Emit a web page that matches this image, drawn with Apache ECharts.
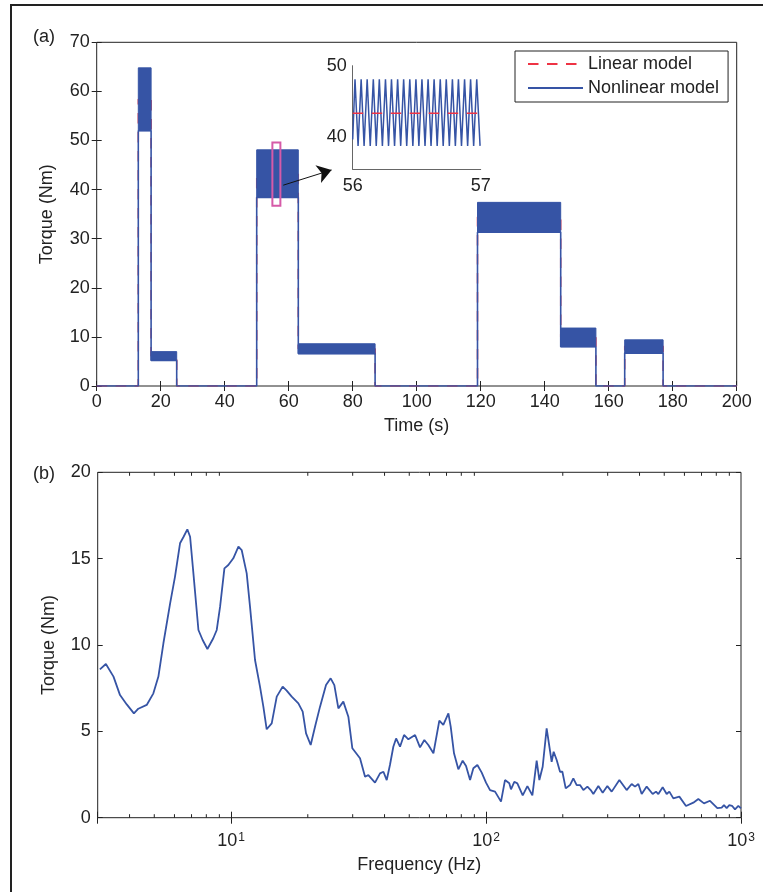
<!DOCTYPE html>
<html>
<head>
<meta charset="utf-8">
<script src="https://cdn.jsdelivr.net/npm/echarts@6/dist/echarts.min.js"></script>
<style>
html,body{margin:0;padding:0;background:#fff;}
#chart{width:763px;height:892px;}
</style>
</head>
<body>
<div id="chart"></div>
<script>
// ---------- (a) time-domain torque: load segments ----------
const segStart = [13, 17, 50, 63, 119, 145, 165];
const segEnd   = [17, 25, 63, 87, 145, 156, 177];
const segLow   = [52.0, 5.2, 38.4, 6.6, 31.3, 8.0, 6.7];   // nonlinear model oscillation minimum
const segHigh  = [64.8, 7.0, 48.1, 8.6, 37.4, 11.8, 9.4];  // nonlinear model oscillation maximum
const linearVal = [58.4, 6.1, 43.3, 7.6, 34.4, 9.9, 8.1];  // linear model level
const timeEnd = 200;
const timeTicks = [0, 200, 20];
const torqueTicksA = [0, 70, 10];

// zoom box and arrow (data coordinates)
const zoomBox = [54.9, 36.7, 57.4, 49.6];
const arrowFrom = [58.3, 40.9];
const arrowTo = [73.4, 44.0];

// ---------- inset: 56 s to 57 s ----------
const insetStart = [56.0, 39.6];
const insetPeakT = [56.018, 56.066, 56.113, 56.161, 56.208, 56.256, 56.303, 56.351, 56.398, 56.446, 56.494,
                    56.541, 56.589, 56.636, 56.684, 56.731, 56.779, 56.826, 56.874, 56.921, 56.969];
const insetTroughT = [56.042, 56.089, 56.137, 56.184, 56.232, 56.280, 56.327, 56.375, 56.422, 56.470, 56.517,
                      56.565, 56.612, 56.660, 56.707, 56.755, 56.802, 56.850, 56.898, 56.945, 56.995];
const insetHigh = 48.1;
const insetLow = 38.7;
const insetXRange = [56, 57];
const insetYRange = [35.4, 50];
const insetYTicks = [40, 50];

// ---------- (b) frequency spectrum ----------
const freqHz = [3.06,3.23,3.46,3.67,3.90,4.16,4.33,4.67,4.96,5.19,5.43,5.77,6.03,6.31,6.50,6.74,6.91,7.12,7.45,7.74,
  8.08,8.52,8.79,9.06,9.42,9.76,10.21,10.69,11.01,11.52,11.87,12.42,12.99,13.39,13.80,14.44,15.11,15.94,16.53,17.30,
  18.37,19.10,19.69,20.53,21.35,22.34,23.58,24.59,25.42,26.36,27.57,28.85,29.91,32.05,33.54,34.56,36.70,
  38.4,39.6,40.8,42.0,43.3,44.4,46.0,47.7,49.6,52.7,55.1,57.3,59.4,62.2,65.6,68.0,71.2,72.7,74.9,77.9,
  81.0,83.5,86.6,89.2,92.5,96.2,100,103.7,108.5,114.5,118.7,123.4,125.3,129.1,132.7,139.3,145.3,152.0,158.0,161.9,
  166.8,172.9,180.9,184.2,189.3,195.1,199.3,205.4,213.5,220.0,226.8,233.7,240.9,249.8,257.4,263.6,275.8,286.8,299.1,311.1,
  333.4,356.1,372.6,384.0,395.8,407.9,426.7,450.4,464.2,474.1,493.0,511.1,523.6,542.8,573.1,608.6,650.2,680.2,716.0,755.8,
  807.7,839.9,857.6,878.6,900.0,922.0,947.3,976.1,1000];
const torqueNm = [8.59,8.90,8.17,7.10,6.56,6.04,6.31,6.53,7.20,8.17,10.10,12.41,13.96,15.89,16.24,16.70,16.27,14.15,10.87,10.29,
  9.77,10.39,10.87,12.22,14.44,14.63,15.02,15.70,15.50,14.15,12.22,9.13,7.59,6.43,5.12,5.46,7.01,7.59,7.36,7.01,
  6.62,6.14,4.88,4.21,5.27,6.43,7.68,8.07,7.68,6.33,6.72,5.85,4.02,3.44,2.37,2.47,2.03,
  2.57,2.66,2.18,3.05,4.11,4.59,4.11,4.79,4.54,4.79,4.07,4.50,4.21,3.73,5.62,5.37,6.04,5.27,3.73,2.80,
  3.30,2.99,2.18,2.86,3.05,2.61,2.03,1.60,1.51,0.93,2.18,1.99,1.64,2.08,1.99,1.29,1.83,1.29,3.30,2.18,
  2.95,5.17,3.24,3.82,3.34,2.66,2.66,1.70,1.89,2.28,1.89,1.89,1.60,1.80,1.60,1.37,1.83,1.45,1.83,1.51,
  2.18,1.60,1.95,1.80,1.95,1.37,1.80,1.37,1.51,1.37,1.76,1.37,1.51,1.12,1.22,0.68,0.87,1.08,0.83,0.98,
  0.56,0.58,0.73,0.56,0.73,0.69,0.48,0.68,0.54];
const freqRange = [3, 1000];
const torqueTicksB = [0, 20, 5];
const freqMinorTicks = [4,5,6,7,8,9,20,30,40,50,60,70,80,90,200,300,400,500,600,700,800,900];

// ---------- build series data ----------
function stepPoints(levels) {
  const pts = [[0, 0]];
  for (let i = 0; i < segStart.length; i++) {
    if (i === 0 || segStart[i] !== segEnd[i - 1]) pts.push([segStart[i], 0]);
    pts.push([segStart[i], levels[i]]);
    pts.push([segEnd[i], levels[i]]);
    if (i === segStart.length - 1 || segStart[i + 1] !== segEnd[i]) pts.push([segEnd[i], 0]);
  }
  pts.push([timeEnd, 0]);
  return pts;
}
const nonlinearPts = stepPoints(segLow);
const linearPts = stepPoints(linearVal);
const bandData = segStart.map((s, i) => [s, segLow[i], segEnd[i], segHigh[i]]);

const insetWave = [insetStart];
for (let i = 0; i < insetPeakT.length; i++) {
  insetWave.push([insetPeakT[i], insetHigh]);
  if (i < insetTroughT.length) insetWave.push([insetTroughT[i], insetLow]);
}
const insetLinear = [[insetXRange[0], linearVal[2]], [insetXRange[1], linearVal[2]]];
const spectrum = freqHz.map((f, i) => [f, torqueNm[i]]);

// ---------- styles ----------
const FONT = '"Liberation Sans", Arial, Helvetica, sans-serif';
const BLUE = '#3654a5';
const RED = '#ee3344';
const INK = '#222';
const txt = { fontFamily: FONT, fontSize: 18, color: INK };

function valAxis(gridIndex, position, rng, showLabel, extra) {
  return Object.assign({
    type: 'value', gridIndex, position,
    min: rng[0], max: rng[1], interval: rng[2],
    axisLine: { show: false },
    axisTick: { show: true, inside: true, length: 5, lineStyle: { color: INK, width: 1 } },
    axisLabel: Object.assign({ show: showLabel, margin: 7 }, txt),
    splitLine: { show: false }
  }, extra || {});
}
function logAxis(position, showLabel, extra) {
  return Object.assign({
    type: 'log', logBase: 10, gridIndex: 1, position,
    min: freqRange[0], max: freqRange[1],
    axisLine: { show: false },
    axisTick: { show: true, inside: true, length: 6, lineStyle: { color: INK, width: 1 } },
    axisLabel: {
      show: showLabel, margin: 14,
      formatter: function (v) {
        const e = Math.round(Math.log10(v));
        if (Math.abs(Math.log10(v) - e) > 1e-6) return '';
        return '{b|10}{s|' + e + '}';
      },
      rich: {
        b: { fontFamily: FONT, fontSize: 18, color: INK, verticalAlign: 'bottom', lineHeight: 18 },
        s: { fontFamily: FONT, fontSize: 12, color: INK, verticalAlign: 'top', lineHeight: 12, padding: [0, 0, 11, 1] }
      }
    },
    splitLine: { show: false }
  }, extra || {});
}

const option = {
  animation: false,
  backgroundColor: '#fff',
  textStyle: { fontFamily: FONT },
  grid: [
    { left: 96.7, top: 42.3, width: 640, height: 343.7, show: true, borderColor: INK, borderWidth: 1, backgroundColor: 'transparent' },
    { left: 97.7, top: 472.3, width: 643.3, height: 345.4, show: true, borderColor: INK, borderWidth: 1, backgroundColor: 'transparent' },
    { left: 352.7, top: 65.7, width: 128, height: 103.6, show: false }
  ],
  legend: {
    data: ['Linear model', 'Nonlinear model'],
    orient: 'vertical', left: 515, top: 51,
    backgroundColor: '#fff', borderColor: INK, borderWidth: 1,
    padding: [4, 9, 5, 12],
    itemWidth: 55, itemHeight: 14, itemGap: 6,
    selectedMode: false,
    itemStyle: { opacity: 0 },
    textStyle: { fontFamily: FONT, fontSize: 18, color: INK, lineHeight: 18 }
  },
  xAxis: [
    valAxis(0, 'bottom', timeTicks, true, {
      name: 'Time (s)', nameLocation: 'middle', nameGap: 31, nameTextStyle: txt
    }),
    valAxis(0, 'top', timeTicks, false),
    logAxis('bottom', true, {
      name: 'Frequency (Hz)', nameLocation: 'middle', nameGap: 35, nameTextStyle: txt
    }),
    logAxis('top', false),
    {
      type: 'value', gridIndex: 2, position: 'bottom',
      min: insetXRange[0], max: insetXRange[1], interval: 1,
      axisLine: { show: true, lineStyle: { color: '#666', width: 1 } },
      axisTick: { show: false },
      axisLabel: Object.assign({ margin: 8 }, txt),
      splitLine: { show: false }
    }
  ],
  yAxis: [
    valAxis(0, 'left', torqueTicksA, true, {
      name: 'Torque (Nm)', nameLocation: 'middle', nameGap: 41, nameTextStyle: txt
    }),
    valAxis(0, 'right', torqueTicksA, false),
    valAxis(1, 'left', torqueTicksB, true, {
      name: 'Torque (Nm)', nameLocation: 'middle', nameGap: 40, nameTextStyle: txt
    }),
    valAxis(1, 'right', torqueTicksB, false),
    {
      type: 'value', gridIndex: 2, position: 'left',
      min: insetYRange[0], max: insetYRange[1],
      axisLine: { show: true, lineStyle: { color: '#666', width: 1 } },
      axisTick: { show: false },
      axisLabel: Object.assign({ margin: 6, customValues: insetYTicks }, txt),
      splitLine: { show: false }
    }
  ],
  series: [
    {
      name: 'Linear model', type: 'line', xAxisIndex: 0, yAxisIndex: 0,
      data: linearPts, symbol: 'none', z: 1,
      lineStyle: { color: RED, width: 1.5, type: [10.5, 8.5] },
      itemStyle: { color: RED }
    },
    {
      name: 'bands', type: 'custom', xAxisIndex: 0, yAxisIndex: 0, z: 5,
      encode: { x: [0, 2], y: [1, 3] },
      data: bandData,
      renderItem: function (params, api) {
        const p0 = api.coord([api.value(0), api.value(3)]);
        const p1 = api.coord([api.value(2), api.value(1)]);
        return {
          type: 'rect',
          shape: { x: p0[0], y: p0[1], width: p1[0] - p0[0], height: p1[1] - p0[1] },
          style: { fill: BLUE, stroke: BLUE, lineWidth: 1, opacity: 1 }
        };
      }
    },
    {
      name: 'Nonlinear model', type: 'line', xAxisIndex: 0, yAxisIndex: 0,
      data: nonlinearPts, symbol: 'none', z: 6,
      lineStyle: { color: BLUE, width: 1.6 },
      itemStyle: { color: BLUE },
      markLine: {
        silent: true, animation: false, z: 10,
        symbol: ['none', 'arrow'], symbolSize: 14,
        label: { show: false },
        lineStyle: { color: '#111', width: 1, type: 'solid' },
        data: [[{ coord: arrowFrom }, { coord: arrowTo }]]
      }
    },
    {
      name: 'zoomBox', type: 'custom', xAxisIndex: 0, yAxisIndex: 0, z: 7,
      encode: { x: [0, 2], y: [1, 3] },
      data: [zoomBox],
      renderItem: function (params, api) {
        const p0 = api.coord([api.value(0), api.value(3)]);
        const p1 = api.coord([api.value(2), api.value(1)]);
        return {
          type: 'rect',
          shape: { x: p0[0], y: p0[1], width: p1[0] - p0[0], height: p1[1] - p0[1] },
          style: { fill: 'none', stroke: '#d65aa8', lineWidth: 2 }
        };
      }
    },
    {
      name: 'Spectrum', type: 'line', xAxisIndex: 2, yAxisIndex: 2,
      data: spectrum, symbol: 'none', z: 4,
      lineStyle: { color: BLUE, width: 1.8 }
    },
    {
      name: 'minorTicks', type: 'custom', xAxisIndex: 2, yAxisIndex: 2, z: 3,
      data: freqMinorTicks.map(f => [f, 0]),
      renderItem: function (params, api) {
        const p = api.coord([api.value(0), 0]);
        const cs = params.coordSys;
        const L = 3.5;
        return {
          type: 'group',
          children: [
            { type: 'line', shape: { x1: p[0], y1: cs.y + cs.height, x2: p[0], y2: cs.y + cs.height - L }, style: { stroke: INK, lineWidth: 1 } },
            { type: 'line', shape: { x1: p[0], y1: cs.y, x2: p[0], y2: cs.y + L }, style: { stroke: INK, lineWidth: 1 } }
          ]
        };
      }
    },
    {
      name: 'Nonlinear model', type: 'line', xAxisIndex: 4, yAxisIndex: 4,
      data: insetWave, symbol: 'none', z: 8,
      lineStyle: { color: BLUE, width: 1.5 }
    },
    {
      name: 'Linear model', type: 'line', xAxisIndex: 4, yAxisIndex: 4,
      data: insetLinear, symbol: 'none', z: 9,
      lineStyle: { color: RED, width: 1.5, type: [10.5, 8.5] }
    }
  ],
  graphic: [
    { type: 'line', shape: { x1: 11, y1: 5, x2: 11, y2: 892 }, style: { stroke: INK, lineWidth: 2 } },
    { type: 'line', shape: { x1: 10, y1: 5, x2: 763, y2: 5 }, style: { stroke: INK, lineWidth: 2 } },
    { type: 'text', left: 33, top: 28, style: { text: '(a)', font: '18px ' + FONT, fill: INK } },
    { type: 'text', left: 33, top: 465, style: { text: '(b)', font: '18px ' + FONT, fill: INK } }
  ]
};

const chart = echarts.init(document.getElementById('chart'), null, { renderer: 'canvas' });
chart.setOption(option);
</script>
</body>
</html>
